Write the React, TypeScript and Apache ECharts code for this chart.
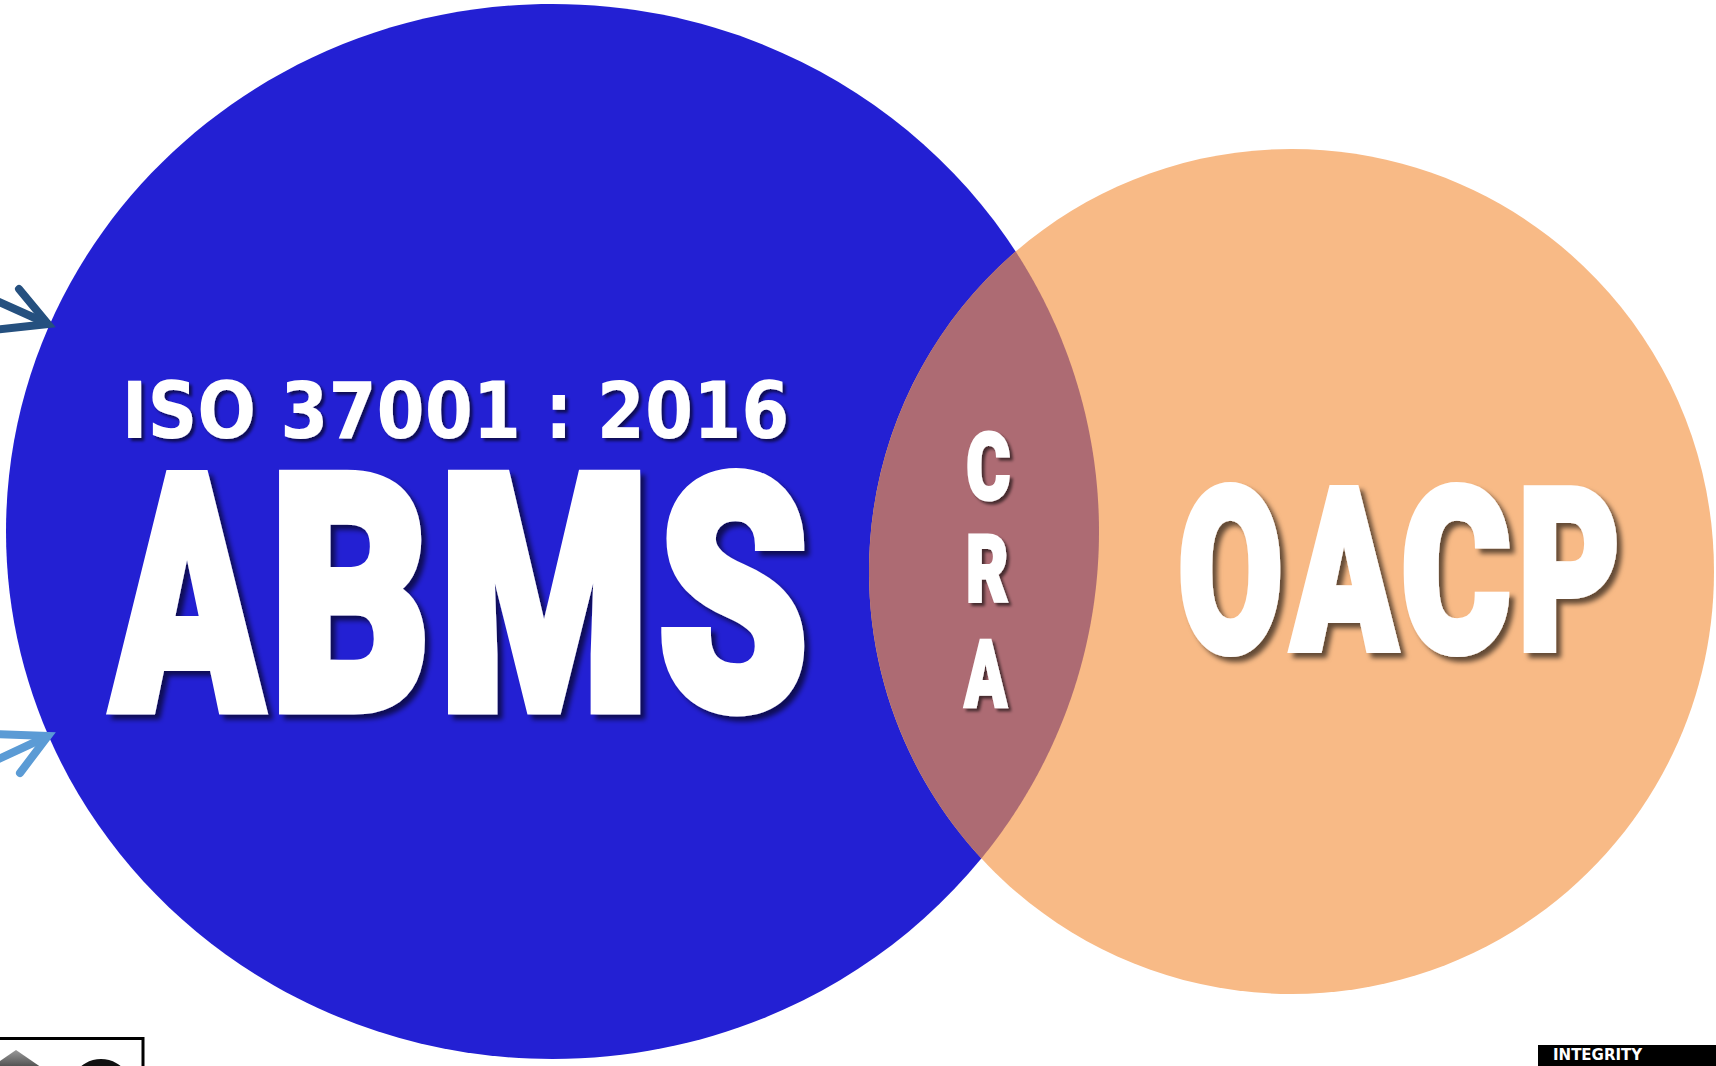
import React, { useEffect, useRef } from "react";
import * as echarts from "echarts";

// ---- Data ----
const setNames = ["ABMS", "OACP"];
const setCenterX = [552.5, 1291.5];
const setCenterY = [531.5, 571.5];
const setRadiusX = [546.5, 422.5];
const setRadiusY = [527.5, 422.5];
const setColors = ["#2320D3", "#F8BA86"];
const overlapLetters = ["C", "R", "A"];
const overlapColor = "#AD6B73";
const standardLabel = "ISO 37001 : 2016";
const footerLabel = "INTEGRITY";

// ---- Layout ----
const W = 1716;
const H = 1066;
const HEAVY_FAMILY = "Roboto";
const HEAVY_WEIGHT = 900;
const BASELINE_FIX = 0.09; // em offset between canvas "middle" and rendered SVG baseline
const abmsBoxes = [
  [107, 267, 468, 714],
  [278, 425, 468, 714],
  [447, 641, 468, 714],
  [661, 805, 466, 716],
];
const oacpBoxes = [
  [1180, 1281, 481, 657],
  [1288, 1400, 484, 653],
  [1403, 1510, 481, 657],
  [1523, 1617, 484, 653],
];
const craBoxes = [
  [967, 1010, 430, 501],
  [968, 1008, 533, 603],
  [963, 1008, 637, 707],
];
const isoBox = [128, 786, 380, 439];

let measureCtx: CanvasRenderingContext2D | null = null;
function fitText(text: string, family: string, weight: number | string, box: number[], strokeEm: number, shadow: number) {
  if (!measureCtx) measureCtx = document.createElement("canvas").getContext("2d");
  const size = 200;
  const font = `${weight} ${size}px ${family}`;
  const ctx = measureCtx!;
  ctx.font = font;
  ctx.textAlign = "left";
  ctx.textBaseline = "middle";
  const m = ctx.measureText(text);
  const sw = strokeEm * size;
  const L = m.actualBoundingBoxLeft + sw / 2;
  const R = m.actualBoundingBoxRight + sw / 2;
  const A = m.actualBoundingBoxAscent + sw / 2;
  const D = m.actualBoundingBoxDescent + sw / 2;
  const sx = (box[1] - box[0]) / (L + R);
  const sy = (box[3] - box[2]) / (A + D);
  return {
    type: "text",
    x: box[0] + L * sx,
    y: box[2] + A * sy - BASELINE_FIX * size * sy,
    scaleX: sx,
    scaleY: sy,
    z: 100,
    silent: true,
    style: {
      text,
      x: 0,
      y: 0,
      font,
      fill: "#ffffff",
      stroke: sw > 0 ? "#ffffff" : undefined,
      lineWidth: sw,
      align: "left",
      verticalAlign: "middle",
      textAlign: "left",
      textVerticalAlign: "middle",
      textShadowColor: "rgba(0,0,0,0.6)",
      textShadowBlur: shadow,
      textShadowOffsetX: shadow,
      textShadowOffsetY: shadow,
    },
  };
}

function insideArc(pt: (t: number) => number[], test: (p: number[]) => number) {
  const N = 2000;
  const roots: number[] = [];
  let prevT = 0;
  let prev = test(pt(0));
  for (let k = 1; k <= N; k++) {
    const t = (2 * Math.PI * k) / N;
    const v = test(pt(t));
    if (prev < 0 !== v < 0) {
      let lo = prevT, hi = t;
      const sLo = prev < 0;
      for (let j = 0; j < 40; j++) {
        const mid = (lo + hi) / 2;
        if ((test(pt(mid)) < 0) === sLo) lo = mid;
        else hi = mid;
      }
      roots.push((lo + hi) / 2);
    }
    prev = v;
    prevT = t;
  }
  let a = roots[0], b = roots[1];
  if (test(pt((a + b) / 2)) > 0) {
    const na = b;
    b = a + 2 * Math.PI;
    a = na;
  }
  return [a, b];
}

function buildOption() {
  const circleData = setNames.map((_, i) => [setCenterX[i], setCenterY[i], setRadiusX[i], setRadiusY[i], i]);

  const graphics: any[] = [];
  graphics.push(fitText(standardLabel, "DejaVu Sans", "bold", isoBox, 0, 3));
  setNames[0].split("").forEach((ch, i) => graphics.push(fitText(ch, HEAVY_FAMILY, HEAVY_WEIGHT, abmsBoxes[i], 0.035, 5)));
  setNames[1].split("").forEach((ch, i) => graphics.push(fitText(ch, HEAVY_FAMILY, HEAVY_WEIGHT, oacpBoxes[i], 0.035, 5)));
  overlapLetters.forEach((ch, i) => graphics.push(fitText(ch, HEAVY_FAMILY, HEAVY_WEIGHT, craBoxes[i], 0.035, 3)));

  // arrows on the left edge
  const darkArrow = { stroke: "#25507F", lineWidth: 8, lineCap: "round", lineJoin: "miter" };
  const lightArrow = { stroke: "#5B9BD5", lineWidth: 8, lineCap: "round", lineJoin: "miter" };
  graphics.push({ type: "polyline", z: 50, silent: true, shape: { points: [[19, 289], [48, 324], [-6, 330]] }, style: darkArrow });
  graphics.push({ type: "line", z: 50, silent: true, shape: { x1: -12, y1: 297, x2: 46, y2: 323 }, style: darkArrow });
  graphics.push({ type: "polyline", z: 50, silent: true, shape: { points: [[-6, 734], [48, 736], [20, 773]] }, style: lightArrow });
  graphics.push({ type: "line", z: 50, silent: true, shape: { x1: -8, y1: 762, x2: 46, y2: 737 }, style: lightArrow });

  // bottom-left logo
  graphics.push({ type: "rect", z: 60, silent: true, shape: { x: -5, y: 1038.5, width: 148, height: 40 }, style: { fill: "#ffffff", stroke: "#000000", lineWidth: 3 } });
  graphics.push({
    type: "polygon", z: 61, silent: true,
    shape: { points: [[16, 1050], [-16, 1072], [48, 1072]] },
    style: { fill: new echarts.graphic.LinearGradient(0, 0, 0, 1, [{ offset: 0, color: "#9a9a9a" }, { offset: 1, color: "#3a3a3a" }]) },
  });
  graphics.push({ type: "circle", z: 61, silent: true, shape: { cx: 101, cy: 1090, r: 31 }, style: { fill: "#111111" } });

  // bottom-right badge
  graphics.push({ type: "rect", z: 60, silent: true, shape: { x: 1538, y: 1045, width: 200, height: 40 }, style: { fill: "#000000" } });
  graphics.push({
    type: "text", z: 61, silent: true, x: 1553, y: 1047,
    style: { text: footerLabel, font: "bold 15px 'DejaVu Sans'", fill: "#ffffff", align: "left", verticalAlign: "top", textAlign: "left", textVerticalAlign: "top" },
  });

  return {
    animation: false,
    backgroundColor: "#ffffff",
    grid: { left: 0, right: 0, top: 0, bottom: 0 },
    xAxis: { type: "value", min: 0, max: W, show: false },
    yAxis: { type: "value", min: 0, max: H, inverse: true, show: false },
    series: [
      {
        type: "custom",
        coordinateSystem: "cartesian2d",
        silent: true,
        clip: false,
        z: 1,
        encode: { x: 0, y: 1 },
        data: circleData,
        renderItem: (_params: any, api: any) => {
          const i = api.value(4);
          const c = api.coord([api.value(0), api.value(1)]);
          const s = api.size([api.value(2), api.value(3)]);
          return { type: "ellipse", shape: { cx: c[0], cy: c[1], rx: s[0], ry: s[1] }, style: { fill: setColors[i] } };
        },
      },
      {
        type: "custom",
        coordinateSystem: "cartesian2d",
        silent: true,
        clip: false,
        z: 2,
        encode: { x: 0, y: 1 },
        data: [[setCenterX[0], setCenterY[0]]],
        renderItem: (_params: any, api: any) => {
          const e = setNames.map((_, i) => {
            const c = api.coord([setCenterX[i], setCenterY[i]]);
            const s = api.size([setRadiusX[i], setRadiusY[i]]);
            return { cx: c[0], cy: c[1], rx: s[0], ry: s[1] };
          });
          const pt = (k: number) => (t: number) => [e[k].cx + e[k].rx * Math.cos(t), e[k].cy + e[k].ry * Math.sin(t)];
          const inside = (k: number) => (p: number[]) =>
            ((p[0] - e[k].cx) / e[k].rx) ** 2 + ((p[1] - e[k].cy) / e[k].ry) ** 2 - 1;
          const arcB = insideArc(pt(1), inside(0));
          const arcA = insideArc(pt(0), inside(1));
          const pts: number[][] = [];
          const n = 300;
          for (let k = 0; k <= n; k++) pts.push(pt(1)(arcB[0] + ((arcB[1] - arcB[0]) * k) / n));
          const last = pts[pts.length - 1];
          const sA = pt(0)(arcA[0]);
          const eA = pt(0)(arcA[1]);
          const forward = Math.hypot(sA[0] - last[0], sA[1] - last[1]) < Math.hypot(eA[0] - last[0], eA[1] - last[1]);
          for (let k = 0; k <= n; k++) {
            const f = forward ? k / n : 1 - k / n;
            pts.push(pt(0)(arcA[0] + (arcA[1] - arcA[0]) * f));
          }
          return { type: "polygon", shape: { points: pts }, style: { fill: overlapColor } };
        },
      },
    ],
    graphic: { elements: graphics },
  };
}

export default function App() {
  const ref = useRef<HTMLDivElement>(null);
  useEffect(() => {
    const chart = echarts.init(ref.current!, null, { renderer: "svg", width: W, height: H });
    chart.setOption(buildOption() as any);
    return () => chart.dispose();
  }, []);
  return (
    <div
      ref={ref}
      style={{ position: "absolute", left: 0, top: 0, width: W, height: H, background: "#ffffff", overflow: "hidden" }}
    />
  );
}
